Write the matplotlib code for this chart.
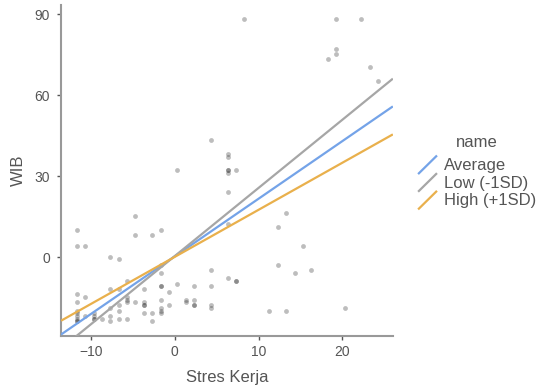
import numpy as np
import matplotlib
matplotlib.use("Agg")
import matplotlib.pyplot as plt
from matplotlib.lines import Line2D
from matplotlib.legend_handler import HandlerBase

plt.rcParams['font.family'] = ['Liberation Sans', 'DejaVu Sans']

# scatter data (Stres Kerja, WIB), centred values
pts = [
    # top right cluster
    (8.3, 88.3), (19.3, 88.3), (22.3, 88.3), (19.3, 77.3), (19.3, 75.3),
    (18.3, 73.3), (23.3, 70.3), (24.3, 65.3),
    # middle
    (4.3, 43.3), (6.3, 38.3), (6.3, 37.3), (6.3, 32.3), (6.3, 32.3), (6.3, 31.3),
    (7.3, 32.3), (0.3, 32.3), (6.3, 24.3), (6.3, 12.3), (13.3, 16.3), (12.3, 11.3),
    (15.3, 4.3), (12.3, -2.7), (14.3, -5.7), (16.3, -4.7), (11.3, -19.7),
    (13.3, -19.7), (20.3, -18.7),
    # right low cluster
    (4.3, -4.7), (6.3, -7.7), (7.3, -8.7), (7.3, -8.7), (2.3, -10.7), (4.3, -10.7),
    (1.3, -15.7), (1.3, -16.7), (2.3, -15.7), (2.3, -17.7), (2.3, -17.7),
    (4.3, -17.7), (4.3, -18.7),
    # left middle
    (-11.7, 10.3), (-11.7, 4.3), (-10.7, 4.3), (-4.7, 15.3), (-4.7, 8.3),
    (-2.7, 8.3), (-1.7, 10.3), (-7.7, 0.3), (-6.7, -0.7), (-5.7, -8.7),
    (-7.7, -11.7), (-6.7, -11.7), (-3.7, -11.7), (-1.7, -2.7), (-1.7, -5.7),
    (-1.7, -10.7), (-1.7, -10.7), (-0.7, -12.7), (0.3, -9.7),
    # bottom left
    (-11.7, -13.7), (-11.7, -16.7), (-11.7, -19.7), (-11.7, -20.7), (-11.7, -21.7),
    (-11.7, -22.7), (-11.7, -23.7), (-11.7, -23.7),
    (-10.7, -14.7), (-10.7, -21.7),
    (-9.7, -20.7), (-9.7, -21.7), (-9.7, -22.7), (-9.7, -22.7),
    (-8.7, -22.7),
    (-7.7, -18.7), (-7.7, -21.7), (-7.7, -23.7),
    (-6.7, -17.7), (-6.7, -19.7), (-6.7, -22.7),
    (-5.7, -14.7), (-5.7, -15.7), (-5.7, -16.7), (-5.7, -22.7),
    (-4.7, -16.7),
    (-3.7, -16.7), (-3.7, -17.7), (-3.7, -17.7), (-3.7, -20.7),
    (-2.7, -20.7), (-2.7, -23.7),
    (-1.7, -15.7), (-1.7, -18.7), (-1.7, -19.7), (-1.7, -20.7),
    (-0.7, -17.7),
]
x_pts = np.array([p[0] for p in pts])
y_pts = np.array([p[1] for p in pts])

# simple slopes
line_names = ["Average", "Low (-1SD)", "High (+1SD)"]
intercepts = [0.4, 0.5, 0.2]
slopes = [2.13, 2.52, 1.74]
line_colors = ["#74a3e8", "#a6a6a6", "#e9b04c"]

xlim = (-13.6, 26.05)
ylim = (-29, 93.4)


class DiagHandler(HandlerBase):
    # ggplot style diagonal legend key
    def create_artists(self, legend, orig_handle, xdescent, ydescent,
                       width, height, fontsize, trans):
        line = Line2D([-xdescent + 1, -xdescent + width - 1],
                      [-ydescent - 3, -ydescent + height + 2],
                      color=orig_handle.get_color(),
                      lw=orig_handle.get_linewidth(),
                      solid_capstyle='butt')
        line.set_transform(trans)
        return [line]


fig = plt.figure(figsize=(5.37, 3.89), dpi=100)
ax = fig.add_axes([0.1136, 0.137, 0.618, 0.85])

ax.scatter(x_pts, y_pts, s=12, color='black', alpha=0.26, linewidths=0, zorder=2)

xs = np.array(xlim)
handles = []
for name, b0, b1, c in zip(line_names, intercepts, slopes, line_colors):
    h, = ax.plot(xs, b0 + b1 * xs, color=c, lw=1.6, label=name, zorder=3,
                 solid_capstyle='butt')
    handles.append(h)

ax.set_xlim(*xlim)
ax.set_ylim(*ylim)
ax.set_xticks([-10, 0, 10, 20])
ax.set_yticks([0, 30, 60, 90])

for s in ['top', 'right']:
    ax.spines[s].set_visible(False)
for s in ['left', 'bottom']:
    ax.spines[s].set_color('#999999')
    ax.spines[s].set_linewidth(1.5)

ax.tick_params(colors='#555555', labelcolor='#555555', labelsize=10, length=3,
               width=1)
ax.tick_params(axis='y', pad=5)
ax.set_xlabel("Stres Kerja", fontsize=12, color='#555555', labelpad=8)
ax.set_ylabel("WIB", fontsize=12, color='#555555', labelpad=6)

leg = fig.legend(handles=handles, labels=line_names,
                 handler_map={Line2D: DiagHandler()},
                 loc='upper left', bbox_to_anchor=(0.776, 0.594),
                 frameon=False, fontsize=12,
                 handlelength=1.3, handletextpad=0.35, labelspacing=0.16,
                 borderaxespad=0, borderpad=0)
for t in leg.get_texts():
    t.set_color('#555555')
fig.text(0.888, 0.633, "name", fontsize=12, color='#555555', ha='center',
         va='center')

fig.savefig("out.png", dpi=100)
